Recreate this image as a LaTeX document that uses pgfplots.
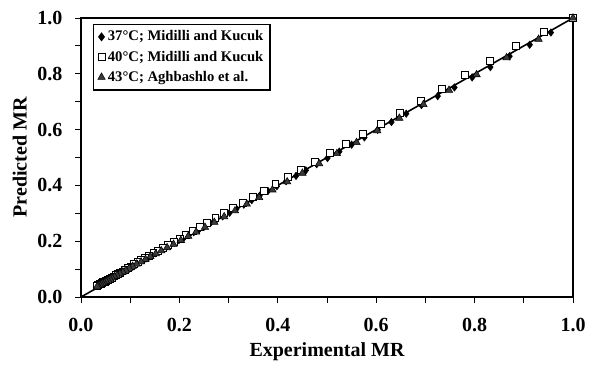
\documentclass[border=0pt]{standalone}
\usepackage{fontspec}
\setmainfont{Liberation Serif}
\usepackage{pgfplots}
\pgfplotsset{compat=1.18}
\definecolor{trigray}{HTML}{3A3A3A}
\begin{document}
\begin{tikzpicture}
\begin{axis}[
  at={(0,0)}, anchor=south west,
  scale only axis,
  width=369pt, height=209.25pt,
  xmin=0, xmax=1, ymin=0, ymax=1,
  xtick={0,0.2,...,1.0}, ytick={0,0.2,...,1.0},
  minor xtick={0.1,0.3,0.5,0.7,0.9},
  minor ytick={0.1,0.3,0.5,0.7,0.9},
  tick align=outside,
  major tick length=4.5pt, minor tick length=4.5pt,
  tick style={black, line width=0.6pt},
  xtick pos=bottom, ytick pos=left,
  axis line style={line width=0.8pt},
  /pgf/number format/assume math mode=true,
  /pgf/number format/fixed, /pgf/number format/fixed zerofill,
  /pgf/number format/precision=1,
  ticklabel style={font=\fontsize{15}{17}\selectfont\bfseries},
  xticklabel style={yshift=-7.5pt},
  yticklabel style={xshift=-6pt},
  xlabel={Experimental MR}, ylabel={Predicted MR},
  label style={font=\fontsize{15}{17}\selectfont\bfseries},
  xlabel style={at={(axis description cs:0.5,0)}, anchor=center, yshift=-41pt},
  ylabel style={at={(axis description cs:0,0.5)}, anchor=center, yshift=46pt},
  legend style={at={(0.025,0.98)}, anchor=north west, draw=black, line width=0.8pt,
    font=\fontsize{11}{13}\selectfont\bfseries, row sep=2pt, inner sep=3pt,
    legend cell align=left},
  clip=false,
]
\addplot[black, line width=1.2pt, forget plot] coordinates {(0,0) (1,1)};
\addplot[only marks, mark=diamond*, mark size=2.8pt, mark options={fill=black, draw=black}] coordinates {
(1.000,1.000) (0.955,0.948) (0.912,0.904) (0.871,0.863) (0.832,0.824) (0.795,0.787)
(0.759,0.751) (0.725,0.720) (0.692,0.688) (0.661,0.657) (0.631,0.627) (0.603,0.599)
(0.576,0.572) (0.550,0.546) (0.525,0.521) (0.501,0.498) (0.479,0.476) (0.457,0.454)
(0.437,0.434) (0.417,0.415) (0.398,0.397) (0.380,0.380) (0.363,0.363) (0.347,0.347)
(0.331,0.331) (0.316,0.316) (0.302,0.302) (0.288,0.289) (0.275,0.277) (0.263,0.265)
(0.251,0.253) (0.240,0.242) (0.229,0.232) (0.219,0.222) (0.209,0.212) (0.199,0.204)
(0.190,0.195) (0.182,0.187) (0.174,0.180) (0.166,0.172) (0.158,0.164) (0.151,0.157)
(0.144,0.150) (0.138,0.144) (0.132,0.138) (0.126,0.132) (0.120,0.126) (0.115,0.121)
(0.110,0.116) (0.105,0.111) (0.100,0.107) (0.095,0.102) (0.091,0.098) (0.087,0.094)
(0.083,0.090) (0.079,0.086) (0.076,0.083) (0.072,0.079) (0.069,0.076) (0.066,0.073)
(0.063,0.070) (0.060,0.068) (0.058,0.066) (0.055,0.063) (0.052,0.060) (0.050,0.058)
(0.048,0.056) (0.046,0.054) (0.044,0.052) (0.042,0.050) (0.040,0.048) (0.038,0.046)
(0.036,0.044) (0.035,0.043) (0.033,0.041)
};
\addplot[only marks, mark=square*, mark size=2.6pt, mark options={fill=white, draw=black, line width=0.5pt}] coordinates {
(1.000,1.000) (0.940,0.952) (0.884,0.899) (0.831,0.846) (0.781,0.795) (0.734,0.747)
(0.690,0.702) (0.648,0.659) (0.610,0.621) (0.573,0.584) (0.539,0.550) (0.506,0.517)
(0.476,0.486) (0.447,0.457) (0.421,0.431) (0.395,0.405) (0.372,0.382) (0.349,0.359)
(0.328,0.338) (0.309,0.319) (0.290,0.300) (0.273,0.283) (0.256,0.266) (0.241,0.251)
(0.227,0.237) (0.213,0.223) (0.200,0.210) (0.188,0.198) (0.177,0.187) (0.166,0.176)
(0.156,0.166) (0.147,0.157) (0.138,0.148) (0.130,0.140) (0.122,0.132) (0.115,0.125)
(0.108,0.118) (0.101,0.110) (0.095,0.103) (0.090,0.098) (0.084,0.092) (0.079,0.087)
(0.074,0.082) (0.070,0.078) (0.066,0.074) (0.062,0.070) (0.058,0.066) (0.055,0.063)
(0.051,0.059) (0.048,0.056) (0.045,0.053) (0.043,0.051) (0.040,0.048) (0.038,0.046)
(0.035,0.043) (0.033,0.041)
};
\addplot[only marks, mark=triangle*, mark size=3.2pt, mark options={fill=trigray, draw=black, line width=0.4pt}] coordinates {
(1.000,1.000) (0.930,0.924) (0.865,0.858) (0.804,0.797) (0.748,0.741) (0.696,0.690)
(0.647,0.641) (0.602,0.596) (0.560,0.554) (0.520,0.514) (0.484,0.478) (0.450,0.444)
(0.419,0.413) (0.389,0.384) (0.362,0.357) (0.337,0.333) (0.313,0.309) (0.291,0.288)
(0.271,0.268) (0.252,0.250) (0.234,0.233) (0.218,0.218) (0.203,0.203) (0.188,0.189)
(0.175,0.177) (0.163,0.166) (0.152,0.155) (0.141,0.145) (0.131,0.135) (0.122,0.126)
(0.113,0.118) (0.105,0.110) (0.098,0.103) (0.091,0.096) (0.085,0.090) (0.079,0.084)
(0.073,0.078) (0.068,0.073) (0.063,0.068) (0.059,0.064) (0.055,0.060) (0.051,0.056)
(0.047,0.052) (0.044,0.049) (0.041,0.046) (0.038,0.043) (0.035,0.040) (0.033,0.038)
};
\legend{37°C; Midilli and Kucuk, 40°C; Midilli and Kucuk, 43°C; Aghbashlo et al.}
\end{axis}
\pgfresetboundingbox
\path[use as bounding box] (-60.75pt,-52.5pt) rectangle (387.75pt,222.75pt);
\end{tikzpicture}
\end{document}
